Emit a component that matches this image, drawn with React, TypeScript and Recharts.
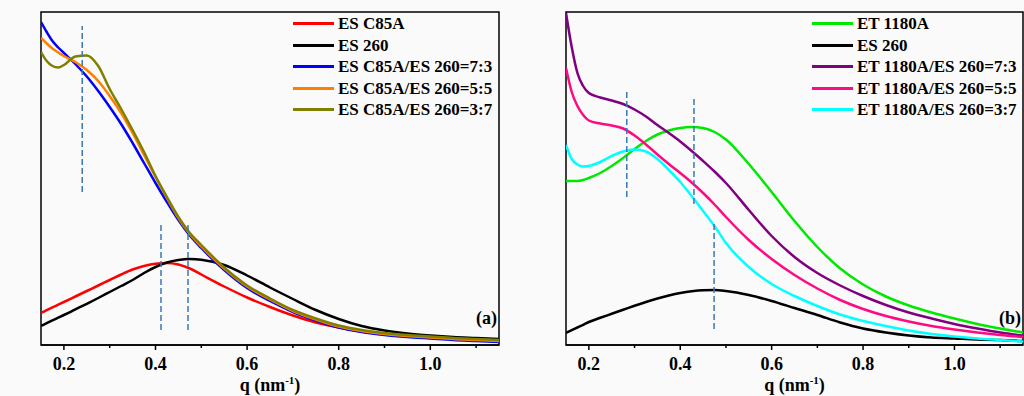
import React from "react"
import { LineChart, Line, XAxis, YAxis, ReferenceLine, ReferenceArea, Legend } from "recharts"

// scattering vector q (nm^-1), shared by every curve
const qValues = [0.15, 0.1625, 0.175, 0.1875, 0.2, 0.225, 0.25, 0.275, 0.3, 0.325, 0.35, 0.375, 0.4, 0.425, 0.45, 0.475, 0.5, 0.55, 0.6, 0.65, 0.7, 0.75, 0.8, 0.85, 0.9, 0.95, 1.0, 1.05, 1.1, 1.15]

// panel (a), intensity in a.u.
const esC85A = [32, 34.8, 37.6, 40.3, 43, 48.5, 54, 59.5, 65, 70.5, 75.5, 79, 81.3, 82, 80.5, 76.5, 70.5, 58.5, 47.5, 38, 29.5, 22.5, 17.5, 13.5, 11, 9, 7.3, 6, 5, 4]
const es260A = [19, 21.8, 24.6, 27.3, 30, 35.6, 41.2, 47, 53, 59, 65, 72, 78, 82.5, 85, 86, 85.3, 80, 69.5, 57.5, 46, 35, 26, 19, 14.5, 11.5, 9.5, 8, 7, 6]
const mixA73 = [323, 313, 304, 297.5, 292, 281, 268.5, 254, 238, 221, 202, 182, 162, 143, 125, 109.5, 97, 75, 57, 44, 33, 24.5, 17.5, 13, 10, 8, 6.5, 5, 4, 3]
const mixA55 = [307, 301.5, 296.5, 292.5, 289, 283, 275, 264, 249, 232, 212, 190, 168, 147, 127, 111, 98.5, 76.5, 58.5, 45.5, 34, 25.5, 18.5, 14, 11, 9, 7.5, 6, 5, 4]
const mixA37 = [293, 284, 279, 277.5, 280, 288.5, 289.5, 279, 256, 236, 215, 193, 169, 148, 128, 112, 100, 77.5, 59.5, 46.5, 35, 26.5, 19.5, 15, 12, 10, 8.5, 7, 6, 5]

// panel (b)
const et1180A = [164, 164, 164, 165, 167, 172, 179, 187, 196, 204, 210.5, 214.5, 217, 218, 217, 213, 205.5, 181, 153, 124, 98, 76.5, 60.5, 48.5, 39.5, 32.5, 26.5, 21, 16.5, 12.5]
const es260B = [12, 14.8, 17.5, 20.2, 23, 27.2, 31.2, 35.2, 39.2, 43, 46.5, 49.5, 52, 53.8, 54.8, 55, 54, 50, 44, 37, 30, 22.5, 16.5, 12.5, 9.5, 7.5, 6.5, 5.5, 5, 4]
const mixB73 = [332, 298, 272, 259, 252, 247.5, 244.5, 241, 235.5, 228.5, 220, 212, 203.5, 194, 184, 173.5, 162, 135, 109, 88, 72, 59.5, 49, 40, 32.5, 26.5, 21, 16.5, 12.5, 9.5]
const mixB55 = [277, 253, 239, 230, 224.5, 221.5, 219.5, 216.5, 209.5, 200.5, 190.5, 181, 172, 162.5, 152, 140.5, 128, 105, 86, 70, 56.5, 45, 36, 29, 23.5, 19, 15.5, 12.5, 10, 8]
const mixB37 = [200, 186, 180.5, 178.5, 179, 183, 189, 193.5, 195.5, 193.5, 186, 175, 163, 149, 134, 119, 102, 78, 61, 49, 39, 30.5, 24, 19, 14.5, 11, 8.5, 6.5, 5, 3.5]

// peak markers: q position, dashed from / to intensity
const peaksA = [
  { q: 0.24, from: 153, to: 319 },
  { q: 0.412, from: 15, to: 121 },
  { q: 0.471, from: 15, to: 121 },
]
const peaksB = [
  { q: 0.283, from: 148, to: 255 },
  { q: 0.43, from: 141, to: 249 },
  { q: 0.474, from: 16, to: 122 },
]

const majorTicks = [0.2, 0.4, 0.6, 0.8, 1.0]
const minorTicks = [0.3, 0.5, 0.7, 0.9, 1.1]
const allTicks = [...majorTicks, ...minorTicks].sort((a, b) => a - b)

const seriesA = [
  { key: "s1", name: "ES C85A", color: "#ff0000", values: esC85A },
  { key: "s2", name: "ES 260", color: "#000000", values: es260A },
  { key: "s3", name: "ES C85A/ES 260=7:3", color: "#0000ff", values: mixA73 },
  { key: "s4", name: "ES C85A/ES 260=5:5", color: "#ff8000", values: mixA55 },
  { key: "s5", name: "ES C85A/ES 260=3:7", color: "#808000", values: mixA37 },
]
const seriesB = [
  { key: "s1", name: "ET 1180A", color: "#00e800", values: et1180A },
  { key: "s2", name: "ES 260", color: "#000000", values: es260B },
  { key: "s3", name: "ET 1180A/ES 260=7:3", color: "#800080", values: mixB73 },
  { key: "s4", name: "ET 1180A/ES 260=5:5", color: "#ff0a85", values: mixB55 },
  { key: "s5", name: "ET 1180A/ES 260=3:7", color: "#00ffff", values: mixB37 },
]

const serif = '"Liberation Serif", "Times New Roman", serif'

function QTick({ x, y, payload }: any) {
  const major = majorTicks.some((t) => Math.abs(t - payload.value) < 1e-6)
  return (
    <g>
      <line x1={x} y1={y} x2={x} y2={y + (major ? 5 : 3)} stroke="#000" strokeWidth={1.5} />
      {major && (
        <text x={x} y={y + 25} textAnchor="middle" fontFamily={serif} fontWeight="bold" fontSize={18} fill="#000">
          {payload.value.toFixed(1)}
        </text>
      )}
    </g>
  )
}

function SeriesLegend({ series }: { series: typeof seriesA }) {
  return (
    <div style={{ fontFamily: serif, fontWeight: "bold", fontSize: 17, lineHeight: "21.5px", color: "#000" }}>
      {series.map((s) => (
        <div key={s.key} style={{ display: "flex", alignItems: "center", whiteSpace: "nowrap" }}>
          <span style={{ display: "inline-block", width: 41, height: 3, background: s.color, marginRight: 4 }} />
          <span>{s.name}</span>
        </div>
      ))}
    </div>
  )
}

interface PanelProps {
  series: typeof seriesA
  peaks: typeof peaksA
  tag: string
  width: number
  marginLeft: number
  marginRight: number
  legendLeft: number
}

function Panel({ series, peaks, tag, width, marginLeft, marginRight, legendLeft }: PanelProps) {
  const data = qValues.map((q, i) => {
    const row: Record<string, number> = { q }
    series.forEach((s) => (row[s.key] = s.values[i]))
    return row
  })

  return (
    <LineChart width={width} height={396} data={data} margin={{ top: 12, right: marginRight, bottom: 21, left: marginLeft }}>
      <XAxis
        dataKey="q"
        type="number"
        domain={[0.15, 1.15]}
        allowDataOverflow
        ticks={allTicks}
        interval={0}
        tick={<QTick />}
        tickSize={0}
        tickMargin={0}
        tickLine={false}
        axisLine={{ stroke: "#000", strokeWidth: 1.5 }}
        height={30}
        label={(props: any) => {
          const { x, width: w } = props.viewBox
          return (
            <text x={x + w / 2} y={391} textAnchor="middle" fontFamily={serif} fontWeight="bold" fontSize={18} fill="#000">
              q (nm
              <tspan dy={-7} fontSize={11}>-1</tspan>
              <tspan dy={7}>)</tspan>
            </text>
          )
        }}
      />
      <YAxis
        type="number"
        domain={[0, 333]}
        allowDataOverflow
        width={0}
        tick={false}
        tickLine={false}
        axisLine={false}
        label={(props: any) => {
          const { x, y, height } = props.viewBox
          const cx = x - 20
          const cy = y + height / 2
          return (
            <text
              x={cx}
              y={cy}
              transform={`rotate(-90 ${cx} ${cy})`}
              textAnchor="middle"
              dominantBaseline="central"
              fontFamily={serif}
              fontWeight="bold"
              fontSize={18}
              fill="#000"
            >
              Intensity
            </text>
          )
        }}
      />
      {series.map((s) => (
        <Line
          key={s.key}
          type="monotone"
          dataKey={s.key}
          name={s.name}
          stroke={s.color}
          strokeWidth={2.5}
          dot={false}
          activeDot={false}
          isAnimationActive={false}
        />
      ))}
      {peaks.map((p, i) => (
        <ReferenceLine
          key={i}
          segment={[
            { x: p.q, y: p.from },
            { x: p.q, y: p.to },
          ]}
          stroke="#3a78b8"
          strokeWidth={1.5}
          strokeDasharray="6 3"
        />
      ))}
      <ReferenceArea
        x1={0.15}
        x2={1.15}
        y1={0}
        y2={333}
        fill="none"
        stroke="#000"
        strokeWidth={1.5}
        label={(props: any) => {
          const { x, y, width: w, height: h } = props.viewBox
          return (
            <text x={x + w - 2} y={y + h - 21} textAnchor="end" fontFamily={serif} fontWeight="bold" fontSize={18} fill="#000">
              {tag}
            </text>
          )
        }}
      />
      <Legend
        layout="vertical"
        align="center"
        verticalAlign="middle"
        wrapperStyle={{ left: legendLeft, top: 13, width: "auto" }}
        content={() => <SeriesLegend series={series} />}
      />
    </LineChart>
  )
}

export default function App() {
  return (
    <div style={{ position: "absolute", left: 0, top: 0, width: 1024, height: 396, background: "#fafafa", overflow: "hidden" }}>
      <div style={{ position: "absolute", left: 0, top: 0 }}>
        <Panel series={seriesA} peaks={peaksA} tag="(a)" width={520} marginLeft={41} marginRight={21} legendLeft={293} />
      </div>
      <div style={{ position: "absolute", left: 520, top: 0 }}>
        <Panel series={seriesB} peaks={peaksB} tag="(b)" width={504} marginLeft={46} marginRight={1} legendLeft={292} />
      </div>
    </div>
  )
}
